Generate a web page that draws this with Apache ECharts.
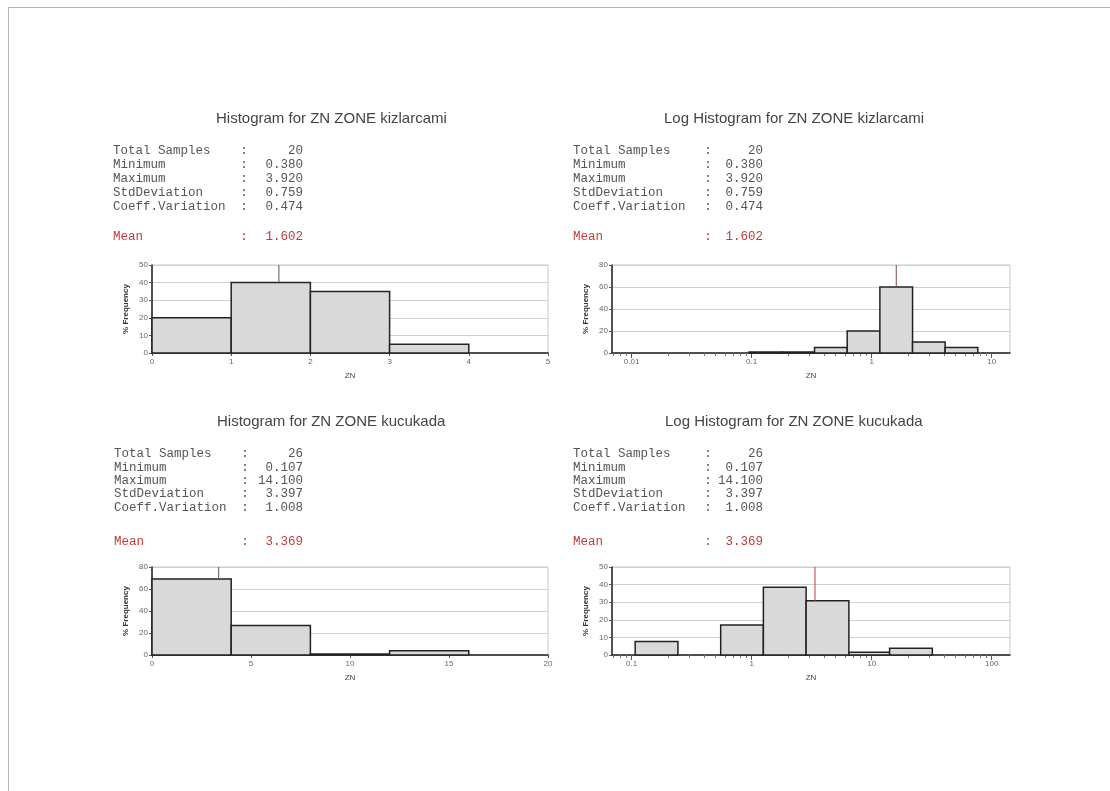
<!DOCTYPE html>
<html>
<head>
<meta charset="utf-8">
<script src="https://cdn.jsdelivr.net/npm/echarts@6/dist/echarts.min.js"></script>
<style>
  html, body { margin: 0; padding: 0; background: #fff; }
  #chart { width: 1110px; height: 791px; }
</style>
</head>
<body>
<div id="chart"></div>
<script>
// ---- summary statistics ----
const statLabels = ['Total Samples', 'Minimum', 'Maximum', 'StdDeviation', 'Coeff.Variation'];
const statsKizlarcami = ['20', '0.380', '3.920', '0.759', '0.474'];
const meanKizlarcami = 1.602;
const statsKucukada = ['26', '0.107', '14.100', '3.397', '1.008'];
const meanKucukada = 3.369;

// ---- kizlarcami, linear bins (ZN) and % frequency ----
const kizLinLo = [0, 1, 2, 3];
const kizLinHi = [1, 2, 3, 4];
const kizLinPct = [20, 40, 35, 5];

// ---- kizlarcami, log bins (ZN) and % frequency ----
const kizLogLo = [0.095, 0.179, 0.334, 0.625, 1.17, 2.19, 4.09];
const kizLogHi = [0.179, 0.334, 0.625, 1.17, 2.19, 4.09, 7.66];
const kizLogPct = [0, 0, 5, 20, 60, 10, 5];

// ---- kucukada, linear bins (ZN) and % frequency ----
const kucLinLo = [0, 4, 8, 12];
const kucLinHi = [4, 8, 12, 16];
const kucLinPct = [69.2, 26.9, 0, 3.8];

// ---- kucukada, log bins (ZN) and % frequency ----
const kucLogLo = [0.107, 0.552, 1.252, 2.843, 6.454, 14.1];
const kucLogHi = [0.243, 1.252, 2.843, 6.454, 14.1, 32.0];
const kucLogPct = [7.7, 17, 38.5, 30.8, 1.5, 3.8];

// ---- axis ranges / ticks ----
const kizLinX = { min: 0, max: 5, interval: 1 };
const kucLinX = { min: 0, max: 20, interval: 5 };
const kizLogX = { min: 0.00686, max: 14.2, decades: [0.01, 0.1, 1, 10] };
const kucLogX = { min: 0.0686, max: 142, decades: [0.1, 1, 10, 100] };
const kizLinY = { max: 50, interval: 10 };
const kizLogY = { max: 80, interval: 20 };
const kucLinY = { max: 80, interval: 20 };
const kucLogY = { max: 50, interval: 10 };

const titles = [
  'Histogram for ZN ZONE kizlarcami',
  'Log Histogram for ZN ZONE kizlarcami',
  'Histogram for ZN ZONE kucukada',
  'Log Histogram for ZN ZONE kucukada'
];

const AXIS = '#222';
const GRIDLINE = '#cfcfcf';
const LABEL = '#666';
const STAT = '#555';
const RED = '#c23b3b';

const chart = echarts.init(document.getElementById('chart'), null, { renderer: 'canvas' });

// plot rectangles
const grids = [
  { left: 152, top: 265, width: 396, height: 88 },
  { left: 612, top: 265, width: 398, height: 88 },
  { left: 152, top: 567, width: 396, height: 88 },
  { left: 612, top: 567, width: 398, height: 88 }
].map(g => Object.assign({ show: true, borderColor: '#c8c8c8', borderWidth: 1, backgroundColor: 'transparent' }, g));

function linearX(gridIndex, r) {
  return {
    type: 'value', gridIndex, min: r.min, max: r.max, interval: r.interval,
    name: 'ZN', nameLocation: 'middle', nameGap: 19,
    nameTextStyle: { fontSize: 8, color: '#444', fontFamily: 'Liberation Sans' },
    axisLine: { show: true, onZero: false, lineStyle: { color: AXIS, width: 1.5 } },
    axisTick: { show: true, length: 3, lineStyle: { color: '#555' } },
    axisLabel: { fontSize: 8, color: LABEL, margin: 5, fontFamily: 'Liberation Sans' },
    splitLine: { show: false }
  };
}

function fmtPow(v) {
  return String(Number(Math.pow(10, v).toPrecision(1)));
}

function logMajor(gridIndex, r) {
  const vals = r.decades.map(d => Math.log10(d));
  return {
    type: 'value', gridIndex, min: Math.log10(r.min), max: Math.log10(r.max),
    position: 'bottom',
    name: 'ZN', nameLocation: 'middle', nameGap: 19,
    nameTextStyle: { fontSize: 8, color: '#444', fontFamily: 'Liberation Sans' },
    axisLine: { show: true, onZero: false, lineStyle: { color: AXIS, width: 1.5 } },
    axisTick: { show: true, length: 5, customValues: vals, lineStyle: { color: '#555' } },
    axisLabel: { fontSize: 8, color: LABEL, margin: 5, customValues: vals, formatter: fmtPow, fontFamily: 'Liberation Sans' },
    splitLine: { show: false }
  };
}

function logMinor(gridIndex, r) {
  const lo = Math.log10(r.min), hi = Math.log10(r.max);
  const vals = [];
  for (let d = Math.floor(lo); d <= Math.ceil(hi); d++) {
    for (let k = 2; k <= 9; k++) {
      const v = d + Math.log10(k);
      if (v >= lo && v <= hi) vals.push(v);
    }
  }
  return {
    type: 'value', gridIndex, min: lo, max: hi, position: 'bottom',
    axisLine: { show: false, onZero: false },
    axisTick: { show: true, length: 3, customValues: vals, lineStyle: { color: '#777' } },
    axisLabel: { show: false },
    splitLine: { show: false }
  };
}

function yAxis(gridIndex, r) {
  return {
    type: 'value', gridIndex, min: 0, max: r.max, interval: r.interval,
    position: 'left',
    name: '% Frequency', nameLocation: 'middle', nameRotate: 90, nameGap: 22,
    nameTextStyle: { fontSize: 8, fontWeight: 'bold', color: '#333', fontFamily: 'Liberation Sans' },
    axisLine: { show: true, onZero: false, lineStyle: { color: AXIS, width: 1.5 } },
    axisTick: { show: true, length: 3, lineStyle: { color: '#555' } },
    axisLabel: { fontSize: 8, color: LABEL, margin: 4, fontFamily: 'Liberation Sans' },
    splitLine: { show: true, lineStyle: { color: GRIDLINE, width: 1 } }
  };
}

function renderBin(params, api) {
  const p0 = api.coord([api.value(0), api.value(2)]);
  const p1 = api.coord([api.value(1), 0]);
  const h = p1[1] - p0[1];
  return {
    type: 'rect',
    shape: { x: p0[0], y: h < 1 ? p1[1] - 1 : p0[1], width: p1[0] - p0[0], height: Math.max(h, 1) },
    style: { fill: '#d9d9d9', stroke: '#222', lineWidth: 1.5 }
  };
}

function binSeries(xi, yi, lo, hi, pct, useLog) {
  const t = useLog ? (v => Math.log10(v)) : (v => v);
  return {
    type: 'custom', xAxisIndex: xi, yAxisIndex: yi, silent: true, z: 3,
    renderItem: renderBin, encode: { x: [0, 1], y: 2 },
    data: lo.map((l, i) => [t(l), t(hi[i]), pct[i]])
  };
}

// vertical mean marker: from the top of the bin holding the mean up to the plot top
function meanSeries(xi, yi, lo, hi, pct, mean, ymax, useLog, color) {
  const t = useLog ? (v => Math.log10(v)) : (v => v);
  let h = 0;
  lo.forEach((l, i) => { if (mean >= l && mean < hi[i]) h = pct[i]; });
  return {
    type: 'line', xAxisIndex: xi, yAxisIndex: yi, silent: true, z: 4,
    symbol: 'none', lineStyle: { color, width: 1 },
    data: [[t(mean), h], [t(mean), ymax]]
  };
}

// ---- text blocks ----
const graphics = [];
graphics.push({ type: 'line', shape: { x1: 8, y1: 7.5, x2: 1110, y2: 7.5 }, style: { stroke: '#b4b4b4', lineWidth: 1 } });
graphics.push({ type: 'line', shape: { x1: 8.5, y1: 7, x2: 8.5, y2: 791 }, style: { stroke: '#b4b4b4', lineWidth: 1 } });

const titlePos = [[216, 119], [664, 119], [217, 422], [665, 422]];
titles.forEach((t, i) => {
  graphics.push({
    type: 'text', x: titlePos[i][0], y: titlePos[i][1],
    style: { text: t, font: '15px "Liberation Sans"', fill: '#444', textAlign: 'left', textVerticalAlign: 'middle' }
  });
});

function statBlock(x0, xc, xr, y0, dy, yMean, values, mean) {
  const monoFont = '12.5px "Liberation Mono"';
  statLabels.forEach((lab, i) => {
    const y = y0 + dy * i;
    graphics.push({ type: 'text', x: x0, y, style: { text: lab, font: monoFont, fill: STAT, textAlign: 'left', textVerticalAlign: 'middle' } });
    graphics.push({ type: 'text', x: xc, y, style: { text: ':', font: monoFont, fill: STAT, textAlign: 'center', textVerticalAlign: 'middle' } });
    graphics.push({ type: 'text', x: xr, y, style: { text: values[i], font: monoFont, fill: STAT, textAlign: 'right', textVerticalAlign: 'middle' } });
  });
  graphics.push({ type: 'text', x: x0, y: yMean, style: { text: 'Mean', font: monoFont, fill: RED, textAlign: 'left', textVerticalAlign: 'middle' } });
  graphics.push({ type: 'text', x: xc, y: yMean, style: { text: ':', font: monoFont, fill: RED, textAlign: 'center', textVerticalAlign: 'middle' } });
  graphics.push({ type: 'text', x: xr, y: yMean, style: { text: mean.toFixed(3), font: monoFont, fill: RED, textAlign: 'right', textVerticalAlign: 'middle' } });
}
statBlock(113, 244, 303, 150.5, 14, 237, statsKizlarcami, meanKizlarcami);
statBlock(573, 708, 763, 150.5, 14, 237, statsKizlarcami, meanKizlarcami);
statBlock(114, 245, 303, 454, 13.3, 541.5, statsKucukada, meanKucukada);
statBlock(573, 708, 763, 454, 13.3, 541.5, statsKucukada, meanKucukada);

const option = {
  animation: false,
  backgroundColor: '#fff',
  grid: grids,
  xAxis: [
    linearX(0, kizLinX),      // 0
    logMajor(1, kizLogX),     // 1
    logMinor(1, kizLogX),     // 2
    linearX(2, kucLinX),      // 3
    logMajor(3, kucLogX),     // 4
    logMinor(3, kucLogX)      // 5
  ],
  yAxis: [yAxis(0, kizLinY), yAxis(1, kizLogY), yAxis(2, kucLinY), yAxis(3, kucLogY)],
  series: [
    binSeries(0, 0, kizLinLo, kizLinHi, kizLinPct, false),
    binSeries(1, 1, kizLogLo, kizLogHi, kizLogPct, true),
    binSeries(3, 2, kucLinLo, kucLinHi, kucLinPct, false),
    binSeries(4, 3, kucLogLo, kucLogHi, kucLogPct, true),
    meanSeries(0, 0, kizLinLo, kizLinHi, kizLinPct, meanKizlarcami, kizLinY.max, false, '#555'),
    meanSeries(1, 1, kizLogLo, kizLogHi, kizLogPct, meanKizlarcami, kizLogY.max, true, '#7a4a4a'),
    meanSeries(3, 2, kucLinLo, kucLinHi, kucLinPct, meanKucukada, kucLinY.max, false, '#555'),
    meanSeries(4, 3, kucLogLo, kucLogHi, kucLogPct, meanKucukada, kucLogY.max, true, RED)
  ],
  graphic: { elements: graphics }
};

chart.setOption(option);
</script>
</body>
</html>
